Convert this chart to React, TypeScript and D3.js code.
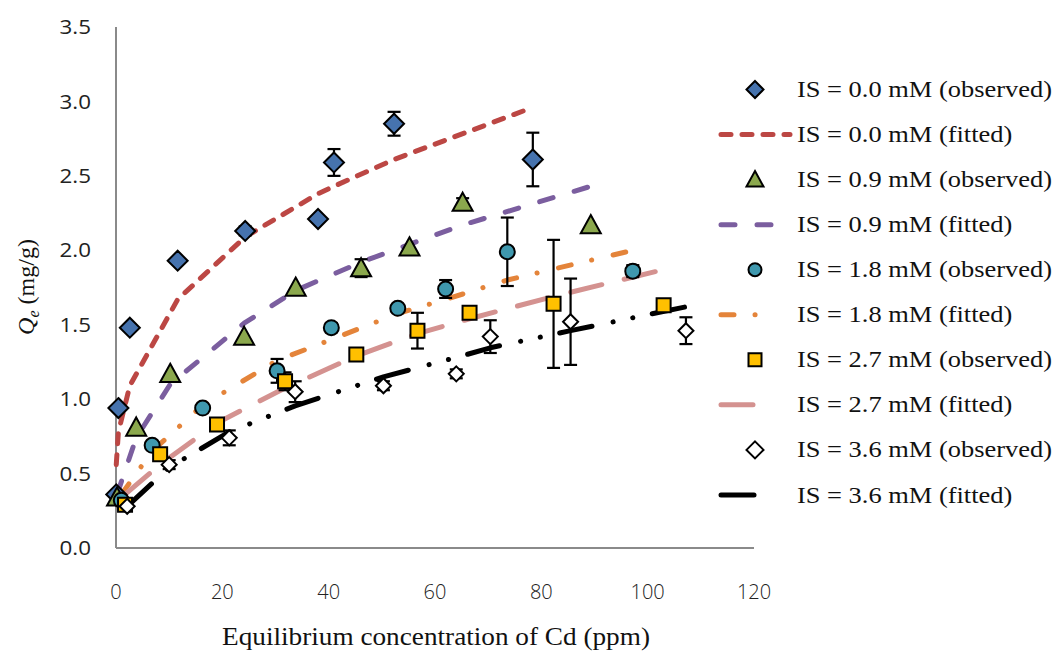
import React from "react";
import * as d3 from "d3";

// Axis ticks
const xTicks = [0, 20, 40, 60, 80, 100, 120];
const yTicks = [0, 0.5, 1.0, 1.5, 2.0, 2.5, 3.0, 3.5];

// Observed adsorption (Ce in ppm, Qe in mg/g, standard error)
const obs00X = [0.05, 0.45, 2.6, 11.6, 24.3, 38.0, 41.0, 52.3, 78.4];
const obs00Y = [0.36, 0.94, 1.48, 1.93, 2.13, 2.21, 2.59, 2.85, 2.61];
const obs00E = [0, 0, 0, 0, 0.03, 0.02, 0.09, 0.08, 0.18];

const obs09X = [0.2, 3.8, 10.2, 24.1, 33.8, 46.1, 55.2, 65.2, 89.3];
const obs09Y = [0.34, 0.81, 1.17, 1.42, 1.75, 1.88, 2.02, 2.32, 2.17];
const obs09E = [0, 0, 0, 0, 0, 0.06, 0, 0.03, 0];

const obs18X = [1.0, 6.8, 16.3, 30.3, 40.5, 53.0, 62.0, 73.6, 97.2];
const obs18Y = [0.32, 0.69, 0.94, 1.19, 1.48, 1.61, 1.74, 1.99, 1.86];
const obs18E = [0, 0, 0, 0.08, 0.03, 0, 0.06, 0.23, 0.04];

const obs27X = [1.7, 8.3, 19.0, 31.8, 45.2, 56.7, 66.5, 82.3, 103.0];
const obs27Y = [0.29, 0.63, 0.83, 1.12, 1.30, 1.46, 1.58, 1.64, 1.63];
const obs27E = [0, 0, 0, 0.06, 0, 0.12, 0.03, 0.43, 0.03];

const obs36X = [2.1, 10.0, 21.3, 33.7, 50.3, 64.0, 70.4, 85.5, 107.2];
const obs36Y = [0.28, 0.56, 0.74, 1.05, 1.09, 1.17, 1.42, 1.52, 1.46];
const obs36E = [0, 0.03, 0.05, 0.07, 0.03, 0.03, 0.11, 0.29, 0.09];

// Fitted isotherms
const fit00X = [0.05, 0.45, 2.6, 11.6, 24.3, 38.0, 41.0, 52.3, 78.4];
const fit00Y = [0.56, 0.78, 1.09, 1.67, 2.09, 2.38, 2.43, 2.61, 2.96];

const fit09X = [0.2, 3.8, 10.2, 24.1, 33.8, 46.1, 55.2, 65.2, 89.3];
const fit09Y = [0.36, 0.74, 1.1, 1.51, 1.73, 1.92, 2.04, 2.17, 2.43];

const fit18X = [1.0, 6.8, 16.3, 30.3, 40.5, 53.0, 62.0, 73.6, 97.2];
const fit18Y = [0.36, 0.65, 0.96, 1.26, 1.4, 1.575, 1.67, 1.8, 2.0];

const fit27X = [1.7, 8.3, 19.0, 31.8, 45.2, 56.7, 66.5, 82.3, 103.0];
const fit27Y = [0.36, 0.56, 0.84, 1.075, 1.29, 1.44, 1.54, 1.69, 1.87];

const fit36X = [2.1, 10.0, 21.3, 33.7, 50.3, 64.0, 70.4, 85.5, 107.2];
const fit36Y = [0.28, 0.54, 0.78, 0.955, 1.15, 1.28, 1.345, 1.46, 1.62];

const labels = [
  "IS = 0.0 mM (observed)",
  "IS = 0.0 mM (fitted)",
  "IS = 0.9 mM (observed)",
  "IS = 0.9 mM (fitted)",
  "IS = 1.8 mM (observed)",
  "IS = 1.8 mM (fitted)",
  "IS = 2.7 mM (observed)",
  "IS = 2.7 mM (fitted)",
  "IS = 3.6 mM (observed)",
  "IS = 3.6 mM (fitted)",
];

type Shape = "diamond" | "triangle" | "circle" | "square";

const observed = [
  { xs: obs00X, ys: obs00Y, es: obs00E, shape: "diamond" as Shape, fill: "#4673AE", size: 10, lsize: 8.5 },
  { xs: obs09X, ys: obs09Y, es: obs09E, shape: "triangle" as Shape, fill: "#8BA84D", size: 10, lsize: 8.5 },
  { xs: obs18X, ys: obs18Y, es: obs18E, shape: "circle" as Shape, fill: "#3F98AE", size: 7.5, lsize: 6.5 },
  { xs: obs27X, ys: obs27Y, es: obs27E, shape: "square" as Shape, fill: "#FFC000", size: 7, lsize: 6.5 },
  { xs: obs36X, ys: obs36Y, es: obs36E, shape: "diamond" as Shape, fill: "#FFFFFF", size: 7.5, lsize: 8.5 },
];

const fitted = [
  { xs: fit00X, ys: fit00Y, color: "#BC4744", dash: "10 11", lx2: 790 },
  { xs: fit09X, ys: fit09Y, color: "#7B5E9F", dash: "14 22", lx2: 776 },
  { xs: fit18X, ys: fit18Y, color: "#E4843A", dash: "13 21 0.1 22", lx2: 776 },
  { xs: fit27X, ys: fit27Y, color: "#D49290", dash: "32 23", lx2: 758 },
  { xs: fit36X, ys: fit36Y, color: "#000000", dash: "33 21.5 0.1 20 0.1 19.8", lx2: 758 },
];

const x = d3.scaleLinear().domain([0, 120]).range([116, 754]);
const y = d3.scaleLinear().domain([0, 3.5]).range([548, 27]);

function markerPath(shape: Shape, s: number): string {
  if (shape === "diamond") return `M0,${-s}L${s},0L0,${s}L${-s},0Z`;
  if (shape === "triangle") return `M0,${-s}L${s},${s * 0.82}L${-s},${s * 0.82}Z`;
  if (shape === "square") return `M${-s},${-s}H${s}V${s}H${-s}Z`;
  return d3.arc()({ innerRadius: 0, outerRadius: s, startAngle: 0, endAngle: 2 * Math.PI }) as string;
}

const serif = "'Liberation Serif', 'Times New Roman', serif";
const sans = "'Open Sans', Lato, sans-serif";

export default function App() {
  const line = d3
    .line<[number, number]>()
    .x((d) => x(d[0]))
    .y((d) => y(d[1]));

  const legendY = (i: number) => 89.5 + i * 45.05;

  return (
    <svg
      width={1056}
      height={657}
      viewBox="0 0 1056 657"
      style={{ position: "absolute", left: 0, top: 0, background: "#fff" }}
    >
      <rect width={1056} height={657} fill="#fff" />

      {/* axes */}
      <line x1={x(0)} x2={x(0)} y1={y(3.5)} y2={y(0)} stroke="#8a8a8a" strokeWidth={2} />
      <line x1={x(0)} x2={x(120)} y1={y(0)} y2={y(0)} stroke="#8a8a8a" strokeWidth={2} />

      {yTicks.map((t) => (
        <text
          key={"y" + t}
          transform={`translate(91,${y(t)}) scale(1.12,1)`}
          dy="0.36em"
          textAnchor="end"
          fontFamily={sans}
          fontSize={20}
          fill="#222"
        >
          {t.toFixed(1)}
        </text>
      ))}
      {xTicks.map((t) => (
        <text
          key={"x" + t}
          x={x(t)}
          y={599}
          textAnchor="middle"
          fontFamily={sans}
          fontWeight={300}
          fontSize={20}
          fill="#222"
        >
          {t}
        </text>
      ))}

      {/* axis titles */}
      <text
        transform="translate(436,645) scale(1.09,1)"
        textAnchor="middle"
        fontFamily={serif}
        fontSize={25}
        fill="#111"
      >
        Equilibrium concentration of Cd (ppm)
      </text>
      <text
        transform="translate(34,287) rotate(-90)"
        textAnchor="middle"
        fontFamily={serif}
        fontSize={24}
        fill="#111"
      >
        <tspan fontStyle="italic">Q</tspan>
        <tspan fontStyle="italic" fontSize={16} dy={5}>e</tspan>
        <tspan dy={-5}> (mg/g)</tspan>
      </text>

      {/* fitted curves */}
      {fitted.map((f, i) => (
        <path
          key={"f" + i}
          d={line(f.xs.map((v, k) => [v, f.ys[k]] as [number, number])) || ""}
          fill="none"
          stroke={f.color}
          strokeWidth={5}
          strokeDasharray={f.dash}
          strokeLinecap="round"
          strokeLinejoin="round"
        />
      ))}

      {/* error bars */}
      {observed.map((s, i) => (
        <g key={"e" + i} stroke="#000" strokeWidth={2.2}>
          {s.xs.map((v, k) =>
            s.es[k] > 0 ? (
              <g key={k}>
                <line x1={x(v)} x2={x(v)} y1={y(s.ys[k] - s.es[k])} y2={y(s.ys[k] + s.es[k])} />
                <line x1={x(v) - 6.5} x2={x(v) + 6.5} y1={y(s.ys[k] - s.es[k])} y2={y(s.ys[k] - s.es[k])} />
                <line x1={x(v) - 6.5} x2={x(v) + 6.5} y1={y(s.ys[k] + s.es[k])} y2={y(s.ys[k] + s.es[k])} />
              </g>
            ) : null
          )}
        </g>
      ))}

      {/* observed markers */}
      {observed.map((s, i) => (
        <g key={"m" + i}>
          {s.xs.map((v, k) => (
            <path
              key={k}
              transform={`translate(${x(v)},${y(s.ys[k])})`}
              d={markerPath(s.shape, s.size)}
              fill={s.fill}
              stroke="#000"
              strokeWidth={2}
            />
          ))}
        </g>
      ))}

      {/* legend */}
      {labels.map((lab, i) => {
        const ly = legendY(i);
        const idx = Math.floor(i / 2);
        const isObs = i % 2 === 0;
        return (
          <g key={"l" + i}>
            {isObs ? (
              <path
                transform={`translate(755,${ly})`}
                d={markerPath(observed[idx].shape, observed[idx].lsize)}
                fill={observed[idx].fill}
                stroke="#000"
                strokeWidth={2}
              />
            ) : (
              <line
                x1={721}
                x2={fitted[idx].lx2}
                y1={ly}
                y2={ly}
                stroke={fitted[idx].color}
                strokeWidth={5}
                strokeDasharray={fitted[idx].dash}
                strokeLinecap="round"
              />
            )}
            <text
              transform={`translate(797,${ly}) scale(1.15,1)`}
              dy="0.33em"
              fontFamily={serif}
              fontSize={23}
              fill="#111"
            >
              {lab}
            </text>
          </g>
        );
      })}
    </svg>
  );
}
